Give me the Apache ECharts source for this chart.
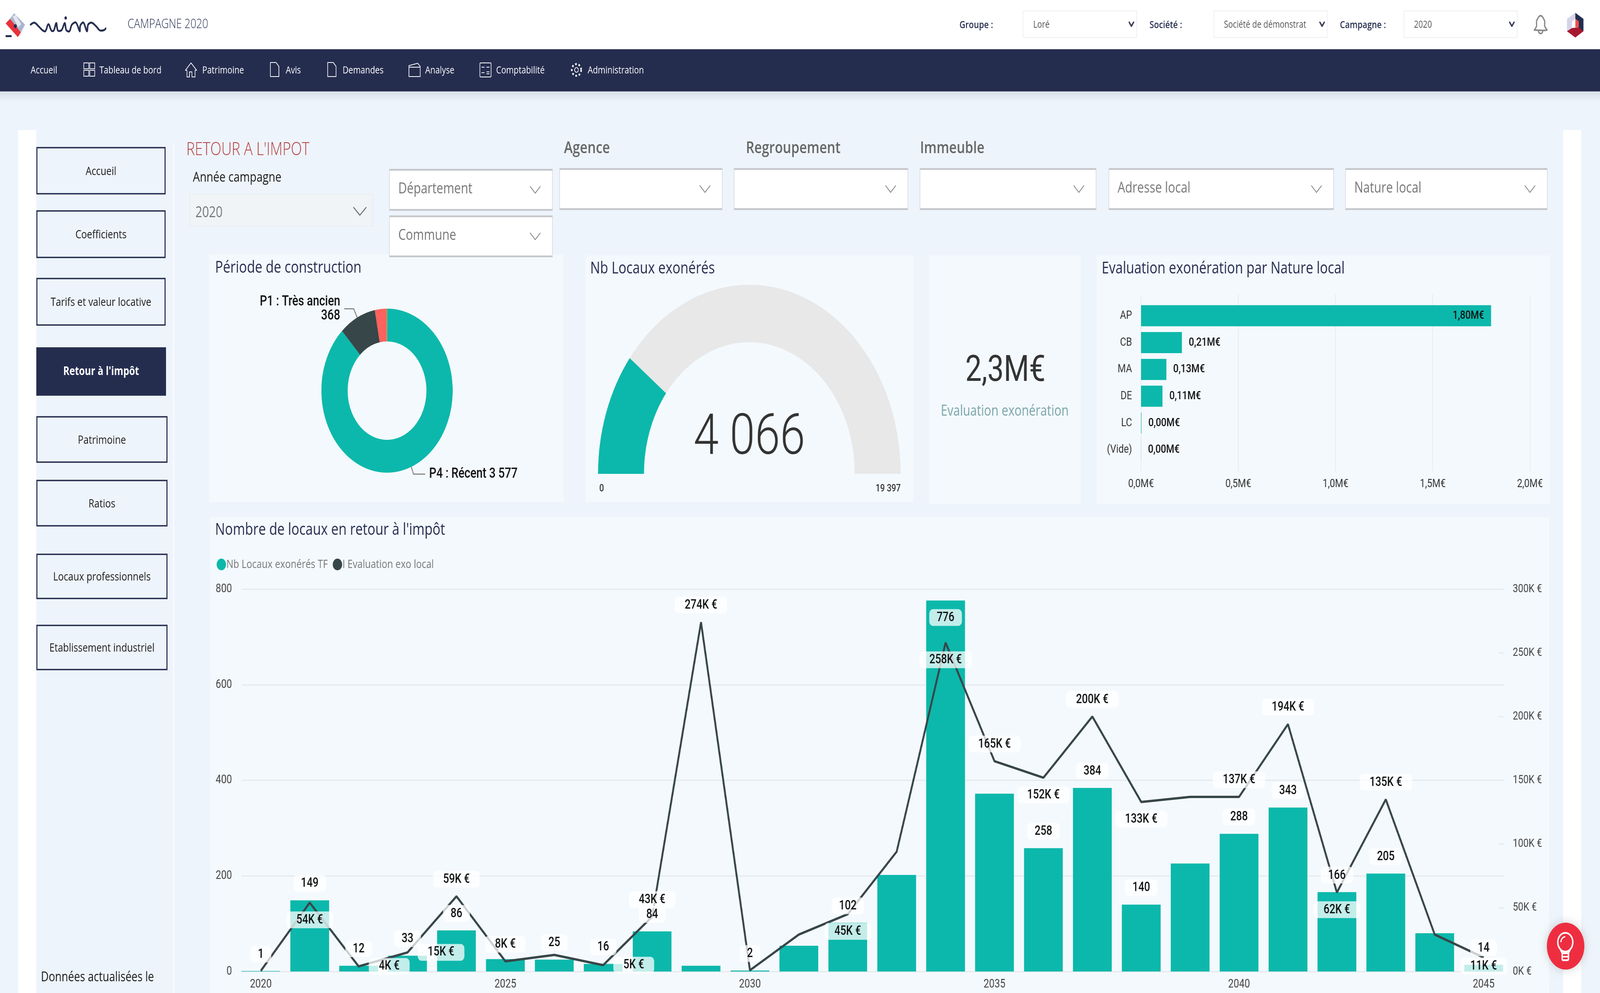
<!DOCTYPE html>
<html lang="fr">
<head>
<meta charset="UTF-8">
<title>Retour à l'impôt</title>
<script src="https://cdn.jsdelivr.net/npm/echarts@6/dist/echarts.min.js"></script>
<style>
html,body{margin:0;padding:0;background:#eef4fb;overflow:hidden}
#main{width:5118px;height:2542px;transform-origin:0 0}
</style>
</head>
<body>
<div id="main"></div>
<script>
// donnees
var years = [2020,2021,2022,2023,2024,2025,2026,2027,2028,2029,2030,2031,2032,2033,2034,2035,2036,2037,2038,2039,2040,2041,2042,2043,2044,2045];
var nbLocaux = [1,149,12,33,86,26,25,16,84,12,2,54,102,202,776,372,258,384,140,226,288,343,166,205,80,14];
var evalExoK = [0.5,54,4,15,59,8,13,5,43,274,1,29,45,94,258,165,152,200,133,137,137,194,62,135,29,11];
var barLabelYears = [2020,2021,2022,2023,2024,2026,2027,2028,2030,2032,2034,2036,2037,2038,2040,2041,2042,2043,2045];
var lineLabelYears = [2021,2022,2023,2024,2025,2027,2028,2029,2032,2034,2035,2036,2037,2038,2040,2041,2042,2043,2045];

var periodeNames = ['P4 : Récent','P1 : Très ancien','P2','P3'];
var periodeValues = [3577,368,118,3];

var gaugeValue = 4066;
var gaugeMax = 19397;

var natureNames = ['AP','CB','MA','DE','LC','(Vide)'];
var natureValues = [1.80,0.21,0.13,0.11,0.002,0.0003];

var kpiTotal = '2,3M€';

var TEAL = '#0cb8ab', DARK = '#374649', NAVY = '#252d4f', RED = '#fd625e';
var UI = '"Open Sans"', NUM = 'Roboto';

function frNum(v){ return String(v).replace(/\B(?=(\d{3})+$)/g,' '); }

// la fenetre peut etre plus petite que la page : on ramene la page a la fenetre
var box = document.getElementById('main');
box.style.transform = 'scale(' + Math.min(1,window.innerWidth/5118) + ',' + Math.min(1,window.innerHeight/2542) + ')';

// habillage de la page
var g = [];
function rect(x,y,w,h,fill,stroke,lw,r){
    g.push({type:'rect',z:-5,shape:{x:x,y:y,width:w,height:h,r:r||0},style:{fill:fill||'none',stroke:stroke||'none',lineWidth:lw||0},silent:true});
}
function txt(x,y,s,font,fill,align){
    g.push({type:'text',z:-4,x:x,y:y,silent:true,style:{text:s,font:font,fill:fill,align:align||'left',verticalAlign:'middle'}});
}
function pl(points,color,lw,smooth){
    g.push({type:'polyline',z:-4,silent:true,shape:{points:points,smooth:smooth||0},style:{fill:'none',stroke:color,lineWidth:lw,lineCap:'round',lineJoin:'round'}});
}
function poly(points,fill){
    g.push({type:'polygon',z:-4,silent:true,shape:{points:points},style:{fill:fill}});
}
function circ(cx,cy,r,fill,stroke,lw,dash){
    g.push({type:'circle',z:-4,silent:true,shape:{cx:cx,cy:cy,r:r},style:{fill:fill||'none',stroke:stroke||'none',lineWidth:lw||0,lineDash:dash||null}});
}
function chevron(cx,cy,w,h,color,lw){ pl([[cx-w/2,cy-h/2],[cx,cy+h/2],[cx+w/2,cy-h/2]],color,lw); }

// entete
rect(0,0,5118,127,'#ffffff');
g.push({type:'rect',z:-5,silent:true,shape:{x:0,y:234,width:5118,height:26},style:{fill:new echarts.graphic.LinearGradient(0,0,0,1,[{offset:0,color:'#d9dfe8'},{offset:1,color:'#eef4fb'}])}});
rect(0,126,5118,108,NAVY);

// logo gauche
poly([[32,48],[45,34],[80,63],[67,83]],'#a9b6cf');
poly([[40,42],[50,38],[68,62],[58,70]],'#e4e6ee');
poly([[18,60],[32,48],[67,83],[57,95]],'#e8323c');
rect(18,90,19,5,NAVY);
circ(49,67,5,NAVY);
pl([[98,63],[110,58],[123,67],[137,78],[145,80],[155,62],[165,79],[172,78],[180,59],[185,78],[197,77],[207,59],[212,77],[222,80],[230,63],[243,58],[255,80],[257,65],[267,58],[278,80],[282,63],[293,58],[307,67],[320,78],[333,77],[338,73]],NAVY,5,0.35);
circ(210,46,4,NAVY);
txt(408,63,'CAMPAGNE 2020','300 33px '+UI,NAVY);

// selecteurs du haut
function topSelect(labelX,label,x,w,val){
    txt(labelX,65,label,'600 26px '+UI,NAVY);
    rect(x,28,w,68,'#ffffff','#eceef1',2);
    txt(x+32,64,val,'25px '+UI,'#555555');
    chevron(x+w-17,62,14,10,'#333a55',4);
}
topSelect(3069,'Groupe :',3273,363,'Loré');
topSelect(3677,'Société :',3883,363,'Société de démonstrat');
topSelect(4286,'Campagne :',4491,362,'2020');
// cloche
pl([[4908,77],[4915,67],[4915,54],[4922,43],[4928,40],[4934,43],[4941,54],[4941,67],[4948,77],[4908,77]],'#888888',4,0.2);
g.push({type:'arc',z:-4,silent:true,shape:{cx:4928,cy:79,r:7,startAngle:0,endAngle:Math.PI},style:{fill:'none',stroke:'#888888',lineWidth:4}});
// logo droit
function lg(x,y){ return [4880+x/3,20+y/3]; }
poly([lg(477,38),lg(397,85),lg(397,180),lg(445,155),lg(445,105),lg(477,85)],'#d4d5ea');
poly([lg(477,38),lg(555,85),lg(555,180),lg(510,155),lg(510,105),lg(477,85)],NAVY);
poly([lg(477,85),lg(510,105),lg(510,150),lg(477,150)],'#f0524f');
poly([lg(397,180),lg(445,155),lg(510,150),lg(555,180),lg(477,228)],'#a6192e');

// barre de navigation
var navFont = '26px '+UI;
[['Accueil',98],['Tableau de bord',318],['Patrimoine',647],['Avis',914],['Demandes',1096],['Analyse',1360],['Comptabilité',1587],['Administration',1880]].forEach(function(n){
    txt(n[1],181,n[0],navFont,'#ffffff');
});
[[268,161],[287,161],[268,180],[287,180]].forEach(function(p){ rect(p[0],p[1],16,15,'none','#ffffff',2); });
pl([[593,180],[611,161],[629,180],[624,180],[624,197],[614,197],[614,184],[606,184],[606,197],[598,197],[598,180],[593,180]],'#ffffff',2);
pl([[865,160],[883,160],[892,170],[892,196],[865,196],[865,160]],'#ffffff',2);
pl([[1048,160],[1066,160],[1075,170],[1075,196],[1048,196],[1048,160]],'#ffffff',2);
pl([[1308,168],[1336,162],[1344,170],[1344,196],[1308,196],[1308,168]],'#ffffff',2);
pl([[1308,172],[1344,172]],'#ffffff',2);
rect(1535,161,36,36,'none','#ffffff',2,3);
pl([[1541,172],[1549,172]],'#ffffff',2);pl([[1557,172],[1565,172]],'#ffffff',2);pl([[1541,186],[1549,186]],'#ffffff',2);pl([[1557,184],[1565,184]],'#ffffff',2);pl([[1557,189],[1565,189]],'#ffffff',2);
circ(1844,179,6,'none','#ffffff',2);
circ(1844,179,15,'none','#ffffff',5,[5,6]);

// bandes blanches et fond
rect(58,333,58,2209,'#ffffff');
rect(5000,333,58,2209,'#ffffff');
rect(552,365,6,2177,'#f6fafe');

// menu lateral
function sideBtn(x,y,w,h,label,active){
    if(active){
        rect(x,y,w,h,NAVY);
        txt(x+w/2,y+h/2,label,'700 30px '+UI,'#ffffff','center');
    }else{
        rect(x,y,w,h,'none',NAVY,3.5);
        txt(x+w/2,y+h/2+2,label,'30px '+UI,'#1a1a1a','center');
    }
}
sideBtn(118,378,410,118,'Accueil');
sideBtn(118,540,410,119,'Coefficients');
sideBtn(118,713,410,119,'Tarifs et valeur locative');
sideBtn(116,889,415,124,'Retour à l\'impôt',true);
sideBtn(118,1067,416,116,'Patrimoine');
sideBtn(118,1230,416,116,'Ratios');
sideBtn(118,1419,416,113,'Locaux professionnels');
sideBtn(118,1601,416,113,'Etablissement industriel');
txt(131,2502,'Données actualisées le','34px '+UI,'#1a1a1a');

// titre et filtres
txt(596,384,'RETOUR A L\'IMPOT','300 46px '+UI,'#b5383a');
txt(617,455,'Année campagne','35px '+UI,'#1a1a1a');
rect(607,498,585,81,'#f0f4f7','#e9edf0',2);
txt(625,545,'2020','38px '+UI,'#777777');
chevron(1151,541,40,20,'#666666',2.5);

function filterBox(x,y,w,h,label){
    rect(x,y,w,h,'#ffffff','#cfd3d7',1.5);
    rect(x,y,w,4,'#c4c7cb');
    rect(x,y+h-4,w,4,'#c4c7cb');
    if(label) txt(x+28,y+51,label,'38px '+UI,'#777777');
    chevron(x+w-55,y+53,32,17,'#7a7a7a',2);
}

// panneaux
rect(670,652,1133,633,'#f4f9fd');
rect(1873,654,1049,631,'#f4f9fd');
rect(2972,654,485,636,'#f4f9fd');
rect(3508,654,1450,636,'#f4f9fd');
rect(672,1324,4283,1218,'#f4f9fd');

filterBox(1246,433,521,106,'Département');
filterBox(1246,552,521,106,'Commune');
filterBox(1790,431,520,106);
filterBox(2348,431,556,106);
filterBox(2943,431,563,106);
filterBox(3547,431,719,106,'Adresse local');
filterBox(4304,431,645,106,'Nature local');
txt(1804,380,'Agence','600 42px '+UI,'#666666');
txt(2386,380,'Regroupement','600 42px '+UI,'#666666');
txt(2943,380,'Immeuble','600 42px '+UI,'#666666');

var panelTitle = '42px '+UI;
txt(688,686,'Période de construction',panelTitle,NAVY);
txt(1888,688,'Nb Locaux exonérés',panelTitle,NAVY);
txt(3524,688,'Evaluation exonération par Nature local',panelTitle,NAVY);
txt(688,1357,'Nombre de locaux en retour à l\'impôt','42px '+UI,NAVY);

// kpi et bornes de la jauge
txt(3216,952,kpiTotal,'93px '+NUM,'#333333','center');
txt(3214,1053,'Evaluation exonération','38px '+UI,'#7aa5aa','center');
txt(1917,1251,'0','500 26px '+NUM,'#333333');
txt(2881,1251,frNum(gaugeMax),'500 26px '+NUM,'#333333','right');

// bouton ampoule
g.push({type:'circle',z:5,silent:true,shape:{cx:5008,cy:2422,r:60},style:{fill:'#ee2e40',shadowBlur:24,shadowColor:'rgba(0,0,0,0.18)'}});
g.push({type:'circle',z:6,silent:true,shape:{cx:5007,cy:2412,r:24},style:{fill:'none',stroke:'#ffffff',lineWidth:4.5}});
g.push({type:'arc',z:6,silent:true,shape:{cx:5007,cy:2412,r:14,startAngle:Math.PI,endAngle:1.5*Math.PI},style:{fill:'none',stroke:'#ffffff',lineWidth:3.5}});
g.push({type:'polyline',z:6,silent:true,shape:{points:[[4990,2428],[4997,2440],[5017,2440],[5024,2428]]},style:{fill:'none',stroke:'#ffffff',lineWidth:4.5}});
g.push({type:'rect',z:6,silent:true,shape:{x:4997,y:2440,width:20,height:18,r:3},style:{fill:'none',stroke:'#ffffff',lineWidth:4.5}});
g.push({type:'polyline',z:6,silent:true,shape:{points:[[4997,2449],[5017,2449]]},style:{fill:'none',stroke:'#ffffff',lineWidth:4}});

// position des etiquettes de la courbe autour de leur point
var linePlace = {2021:'bottom',2022:'right',2023:'right',2027:'right',2032:'bottom',2034:'bottom',2036:'bottom',2038:'bottom',2042:'bottom',2045:'bottom'};

var dataLabel = {
    show:true,fontFamily:NUM,fontWeight:500,fontSize:33,color:'#111111',
    backgroundColor:'rgba(255,255,255,0.75)',borderRadius:12,padding:[6,24,4,24]
};

var barLabelData = years.map(function(y,i){
    var lab = barLabelYears.indexOf(y) >= 0;
    var o = {value:nbLocaux[i]};
    o.label = lab ? {show:true,position:nbLocaux[i] > 700 ? 'insideTop':'top',distance:22} : {show:false};
    return o;
});
var lineData = years.map(function(y,i){
    var lab = lineLabelYears.indexOf(y) >= 0;
    var o = {value:evalExoK[i]};
    var dist = linePlace[y]==='right' ? 32 : (y===2045 ? 0 : 22);
    o.label = lab ? {show:true,position:linePlace[y] || 'top',distance:dist} : {show:false};
    return o;
});

var chart = echarts.init(box,null,{width:5118,height:2542});
chart.setOption({
    animation:false,
    backgroundColor:'#eef4fb',
    graphic:{elements:g},
    legend:{
        left:688,top:1425,itemWidth:30,itemHeight:30,itemGap:16,icon:'circle',
        data:['Nb Locaux exonérés TF','I Evaluation exo local'],
        textStyle:{fontFamily:UI,fontSize:30,color:'#777777',padding:[0,0,0,-4]}
    },
    grid:[
        {left:756,top:1508,width:4068,height:979},
        {left:772,top:1508,width:4038,height:979},
        {left:3650,top:774,width:1244,height:412},
        {left:3650,top:754,width:1244,height:452}
    ],
    xAxis:[
        {type:'category',gridIndex:0,data:years,axisLine:{show:false},axisTick:{show:false},
            axisLabel:{fontFamily:NUM,fontSize:31,color:'#444444',margin:18,interval:4}},
        {type:'value',gridIndex:1,show:false,min:0,max:1},
        {type:'value',gridIndex:2,show:false,min:0,max:2},
        {type:'value',gridIndex:3,min:0,max:2,interval:0.5,axisLine:{show:false},axisTick:{show:false},
            splitLine:{lineStyle:{color:'#e6eaed',width:2}},
            axisLabel:{fontFamily:NUM,fontSize:30,color:'#333333',margin:18,
                formatter:function(v){return v.toFixed(1).replace('.',',')+'M€';}}}
    ],
    yAxis:[
        {type:'value',gridIndex:0,min:0,max:800,interval:200,splitLine:{show:false},axisLine:{show:false},axisTick:{show:false},
            axisLabel:{fontFamily:NUM,fontSize:31,color:'#444444',margin:14}},
        {type:'value',gridIndex:0,position:'right',min:0,max:300,interval:50,splitLine:{show:false},axisLine:{show:false},axisTick:{show:false},
            axisLabel:{fontFamily:NUM,fontSize:30,color:'#444444',margin:15,formatter:'{value}K €'}},
        {type:'value',gridIndex:1,min:0,max:800,interval:200,axisLine:{show:false},axisTick:{show:false},axisLabel:{show:false},
            splitLine:{lineStyle:{color:'#e6eaed',width:3}}},
        {type:'value',gridIndex:1,position:'right',min:0,max:300,interval:50,axisLine:{show:false},axisLabel:{show:false},splitLine:{show:false},
            axisTick:{show:true,inside:true,length:17,lineStyle:{color:'#e6eaed',width:3}}},
        {type:'category',gridIndex:2,inverse:true,data:natureNames,axisLine:{show:false},axisTick:{show:false},
            axisLabel:{fontFamily:NUM,fontSize:30,color:'#333333',margin:29}},
        {type:'value',gridIndex:3,show:false,min:0,max:1}
    ],
    series:[
        {name:'Nb Locaux exonérés TF',type:'bar',xAxisIndex:0,yAxisIndex:0,barWidth:124,data:nbLocaux,z:2,
            itemStyle:{color:TEAL}},
        {name:'I Evaluation exo local',type:'line',xAxisIndex:0,yAxisIndex:1,data:lineData,z:2,
            symbol:'circle',symbolSize:1,showSymbol:true,showAllSymbol:true,lineStyle:{color:DARK,width:6},itemStyle:{color:DARK},
            label:Object.assign({},dataLabel,{padding:[6,32,4,32],formatter:'{c}K €'})},
        // barres transparentes : portent les etiquettes au-dessus de la courbe
        {name:'etiquettes',type:'bar',xAxisIndex:0,yAxisIndex:0,barWidth:124,barGap:'-100%',data:barLabelData,z:3,
            itemStyle:{color:'transparent'},label:dataLabel},
        {type:'bar',xAxisIndex:2,yAxisIndex:4,barWidth:54,
            data:natureValues.map(function(v,i){
                return {value:v,label:{position:i===0?'insideRight':'right',distance:22}};
            }),
            itemStyle:{color:TEAL},
            label:{show:true,fontFamily:NUM,fontWeight:500,fontSize:30,color:'#111111',
                formatter:function(p){return p.value.toFixed(2).replace('.',',')+'M€';}}},
        {type:'pie',center:[1238,1000],radius:[126,210],startAngle:90,clockwise:true,silent:true,
            data:periodeNames.map(function(n,i){
                var show = i < 2;
                return {name:n,value:periodeValues[i],
                    label:{show:show,formatter:i===0?'{b} '+frNum(periodeValues[i]):'{b}\n'+frNum(periodeValues[i])},
                    labelLine:{show:show,length:i===0?20:25,length2:i===0?37:30}};
            }),
            color:[TEAL,DARK,RED,'#f2c80f'],
            label:{fontFamily:NUM,fontWeight:500,fontSize:36,color:'#111111',align:'right',lineHeight:36,distanceToLabelLine:13},
            labelLine:{lineStyle:{color:'#777777',width:2.5}}},
        {type:'gauge',center:[2397,1213],radius:484,startAngle:180,endAngle:0,min:0,max:gaugeMax,silent:true,
            axisLine:{lineStyle:{width:147,color:[[1,'#e8e8e8']]}},
            progress:{show:true,width:147,itemStyle:{color:TEAL}},
            pointer:{show:false},axisTick:{show:false},splitLine:{show:false},axisLabel:{show:false},
            anchor:{show:false},title:{show:false},
            detail:{offsetCenter:[0,-87],fontFamily:NUM,fontWeight:300,fontSize:145,color:'#333333',
                formatter:function(v){return frNum(v);}},
            data:[{value:gaugeValue}]}
    ]
});
</script>
</body>
</html>
